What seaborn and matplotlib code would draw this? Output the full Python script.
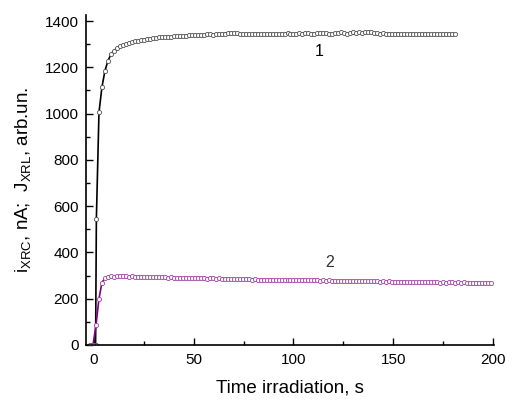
import matplotlib
matplotlib.use("Agg")
import matplotlib.pyplot as plt
import seaborn as sns
import pandas as pd
from matplotlib.ticker import MultipleLocator

# ---- data ----
t1 = [-2, -0.5, 0.8, 1.2, 2.5, 4, 5.5, 7, 8.5, 10,
      11.5, 13, 14.5, 16, 17.5, 19, 20.5, 22, 23.5, 25,
      26.5, 28, 29.5, 31, 32.5, 34, 35.5, 37, 38.5, 40,
      41.5, 43, 44.5, 46, 47.5, 49, 50.5, 52, 53.5, 55,
      56.5, 58, 59.5, 61, 62.5, 64, 65.5, 67, 68.5, 70,
      71.5, 73, 74.5, 76, 77.5, 79, 80.5, 82, 83.5, 85,
      86.5, 88, 89.5, 91, 92.5, 94, 95.5, 97, 98.5, 100,
      101.5, 103, 104.5, 106, 107.5, 109, 110.5, 112, 113.5, 115,
      116.5, 118, 119.5, 121, 122.5, 124, 125.5, 127, 128.5, 130,
      131.5, 133, 134.5, 136, 137.5, 139, 140.5, 142, 143.5, 145,
      146.5, 148, 149.5, 151, 152.5, 154, 155.5, 157, 158.5, 160,
      161.5, 163, 164.5, 166, 167.5, 169, 170.5, 172, 173.5, 175,
      176.5, 178, 179.5, 181]
y1 = [0, 0, 0, 545, 1005, 1115, 1185, 1228, 1256, 1272,
      1283, 1291, 1297, 1302, 1306, 1309, 1312, 1315, 1318, 1320,
      1322, 1324, 1326, 1327, 1329, 1330, 1331, 1333, 1332, 1334,
      1335, 1336, 1335, 1337, 1338, 1339, 1338, 1340, 1341, 1339,
      1342, 1343, 1341, 1344, 1345, 1343, 1346, 1348, 1350, 1347,
      1349, 1346, 1344, 1345, 1343, 1344, 1346, 1345, 1343, 1342,
      1344, 1345, 1343, 1342, 1344, 1346, 1345, 1347, 1346, 1344,
      1345, 1347, 1346, 1348, 1347, 1345, 1346, 1348, 1350, 1347,
      1349, 1346, 1345, 1347, 1349, 1351, 1348, 1346, 1349, 1351,
      1350, 1352, 1350, 1351, 1353, 1351, 1350, 1348, 1346, 1347,
      1345, 1346, 1344, 1345, 1346, 1344, 1345, 1343, 1345, 1346,
      1344, 1345, 1343, 1344, 1345, 1343, 1344, 1345, 1343, 1344,
      1345, 1343, 1344, 1344]

t2 = [-2, -0.5, 1, 2.5, 4, 5.5, 7, 8.5, 10, 11.5,
      13, 14.5, 16, 17.5, 19, 20.5, 22, 23.5, 25, 26.5,
      28, 29.5, 31, 32.5, 34, 35.5, 37, 38.5, 40, 41.5,
      43, 44.5, 46, 47.5, 49, 50.5, 52, 53.5, 55, 56.5,
      58, 59.5, 61, 62.5, 64, 65.5, 67, 68.5, 70, 71.5,
      73, 74.5, 76, 77.5, 79, 80.5, 82, 83.5, 85, 86.5,
      88, 89.5, 91, 92.5, 94, 95.5, 97, 98.5, 100, 101.5,
      103, 104.5, 106, 107.5, 109, 110.5, 112, 113.5, 115, 116.5,
      118, 119.5, 121, 122.5, 124, 125.5, 127, 128.5, 130, 131.5,
      133, 134.5, 136, 137.5, 139, 140.5, 142, 143.5, 145, 146.5,
      148, 149.5, 151, 152.5, 154, 155.5, 157, 158.5, 160, 161.5,
      163, 164.5, 166, 167.5, 169, 170.5, 172, 173.5, 175, 176.5,
      178, 179.5, 181, 182.5, 184, 185.5, 187, 188.5, 190, 191.5,
      193, 194.5, 196, 197.5, 199]
y2 = [0, 0, 85, 200, 270, 289, 295, 297, 296, 297,
      298, 297, 297, 296, 297, 296, 295, 296, 294, 295,
      293, 294, 293, 292, 293, 292, 291, 292, 291, 290,
      291, 290, 289, 290, 291, 289, 288, 289, 288, 287,
      289, 288, 287, 288, 287, 286, 287, 286, 285, 286,
      285, 284, 285, 284, 283, 284, 283, 282, 283, 282,
      283, 282, 281, 282, 281, 282, 281, 280, 281, 280,
      281, 280, 279, 280, 279, 280, 279, 278, 279, 278,
      279, 278, 277, 278, 277, 278, 277, 276, 277, 276,
      277, 276, 275, 276, 275, 276, 275, 274, 275, 274,
      275, 274, 273, 274, 273, 274, 273, 272, 273, 272,
      273, 272, 271, 272, 271, 272, 271, 270, 271, 270,
      272, 271, 270, 271, 270, 271, 270, 269, 270, 269,
      270, 269, 268, 269, 269]

curve_labels = ["1", "2"]
x_ticks = [0, 50, 100, 150, 200]
y_ticks = [0, 200, 400, 600, 800, 1000, 1200, 1400]

df1 = pd.DataFrame({"t": t1, "v": y1})
df2 = pd.DataFrame({"t": t2, "v": y2})

sns.set_style("ticks")
plt.rcParams["font.family"] = ["Liberation Sans", "DejaVu Sans"]
plt.rcParams["mathtext.fontset"] = "custom"
plt.rcParams["mathtext.rm"] = "Liberation Sans"
plt.rcParams["text.color"] = "black"
plt.rcParams["axes.labelcolor"] = "black"
plt.rcParams["xtick.color"] = "black"
plt.rcParams["ytick.color"] = "black"

W, H = 517, 403
fig = plt.figure(figsize=(W / 100, H / 100), dpi=100)
ax = fig.add_axes([86 / W, 1 - 345 / H, 408 / W, 330 / H])

sns.lineplot(data=df1, x="t", y="v", ax=ax, color="black", linewidth=1.2,
             marker="o", markersize=3.0, markerfacecolor="white",
             markeredgecolor="#505050", markeredgewidth=0.6,
             estimator=None, sort=False)
sns.lineplot(data=df2, x="t", y="v", ax=ax, color="#800080", linewidth=1.2,
             marker="o", markersize=3.0, markerfacecolor="white",
             markeredgecolor="#a040a0", markeredgewidth=0.6,
             estimator=None, sort=False)

ax.set_xlim(-4, 200.5)
ax.set_ylim(0, 1426)
ax.set_xticks(x_ticks)
ax.set_yticks(y_ticks)
ax.xaxis.set_minor_locator(MultipleLocator(25))
ax.yaxis.set_minor_locator(MultipleLocator(100))
ax.tick_params(which="both", direction="in", color="black", width=1,
               labelsize=11, labelcolor="black")
ax.tick_params(which="major", length=5)
ax.tick_params(which="minor", length=3)
ax.tick_params(axis="x", pad=6)
ax.tick_params(axis="y", pad=5)
for s in ["top", "right"]:
    ax.spines[s].set_visible(False)
for s in ["left", "bottom"]:
    ax.spines[s].set_color("black")
    ax.spines[s].set_linewidth(1.2)

ax.set_xlabel("Time irradiation, s", fontsize=13.5, labelpad=9, color="black")
ax.set_ylabel(r"i$_{\mathregular{XRC}}$, nA;  J$_{\mathregular{XRL}}$, arb.un.",
              fontsize=13.5, labelpad=8, color="black")

ax.text(113, 1270, curve_labels[0], fontsize=11.5, color="black",
        ha="center", va="center")
ax.text(118, 355, curve_labels[1], fontsize=11.5, color="#333333",
        ha="center", va="center")

fig.savefig("out.png", dpi=100)
